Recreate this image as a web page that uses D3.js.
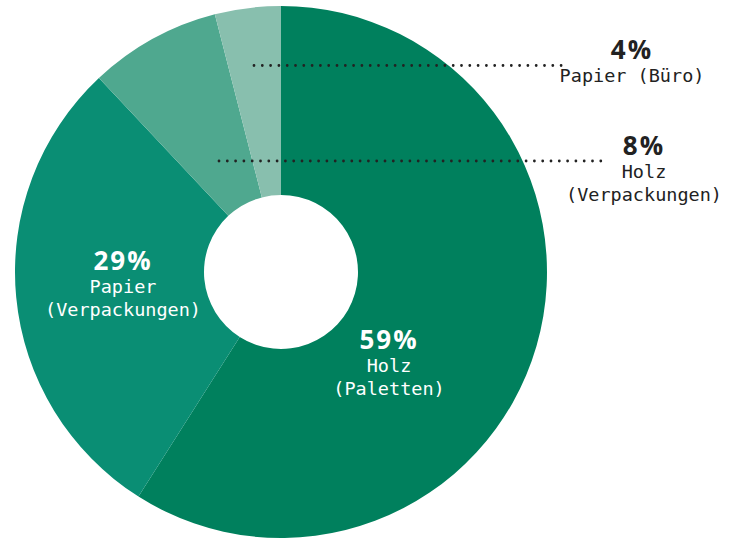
<!DOCTYPE html>
<html lang="de">
    <head>
        <meta charset="utf-8">
        <title>donut</title>
        <script type="text/javascript" src="https://cdn.jsdelivr.net/npm/d3@7"></script>
        <style>
            body { margin: 0; background: #fff; }
            .pct { font-family: "Open Sans", "Noto Sans", sans-serif; font-weight: 700; font-size: 26px; letter-spacing: 2px; }
            .lbl { font-family: "DejaVu Sans Mono", monospace; font-size: 18.5px; }
        </style>
    </head>

    <body>
        <script type="text/javascript">
        var w = 734;
        var h = 539;

        // data, in drawing order (clockwise from 12 o'clock)
        var categories = ["Holz (Paletten)", "Papier (Verpackungen)", "Holz (Verpackungen)", "Papier (Büro)"];
        var values = [59, 29, 8, 4];
        var labelLines = [["Holz", "(Paletten)"], ["Papier", "(Verpackungen)"], ["Holz", "(Verpackungen)"], ["Papier (Büro)"]];
        var colors = ["#00805d", "#0a8e74", "#4fa88f", "#88bfae"];

        var cx = 281, cy = 272;
        var outerR = 266, innerR = 77;

        var dataset = categories.map(function(c, i){
            return { name: c, value: values[i], lines: labelLines[i], color: colors[i] };
        });

        // label placement relative to the chart centre
        var labelPos = [
            { x: 108, y: 77, inside: true },
            { x: -158, y: -2, inside: true },
            { x: 363, y: -117, inside: false, lineFrom: [-62, -111], lineTo: [322, -111] },
            { x: 351, y: -213, inside: false, lineFrom: [-27, -206.5], lineTo: [282, -206.5] }
        ];

        var svg = d3.select("body")
                    .append("svg")
                    .attr("width", w)
                    .attr("height", h);

        var g = svg.append("g")
                    .attr("transform", "translate(" + cx + "," + cy + ")");

        var pie = d3.pie()
                    .sort(null)
                    .value(function(d){ return d.value; });

        var arc = d3.arc()
                    .innerRadius(innerR)
                    .outerRadius(outerR);

        g.selectAll("path")
            .data(pie(dataset))
            .enter()
            .append("path")
            .attr("d", arc)
            .attr("fill", function(d){ return d.data.color; });

        // dotted leader lines for the small slices
        dataset.forEach(function(d, i){
            var p = labelPos[i];
            if (p.inside) return;
            g.append("line")
                .attr("x1", p.lineFrom[0])
                .attr("y1", p.lineFrom[1])
                .attr("x2", p.lineTo[0])
                .attr("y2", p.lineTo[1])
                .attr("stroke", "#222")
                .attr("stroke-width", 2.8)
                .attr("stroke-linecap", "round")
                .attr("stroke-dasharray", "0 8.3");
        });

        // labels
        dataset.forEach(function(d, i){
            var p = labelPos[i];
            var fill = p.inside ? "#fff" : "#222";
            var t = g.append("g").attr("transform", "translate(" + p.x + "," + p.y + ")");
            t.append("text")
                .attr("class", "pct")
                .attr("text-anchor", "middle")
                .attr("fill", fill)
                .text(d.value + "%");
            d.lines.forEach(function(line, j){
                t.append("text")
                    .attr("class", "lbl")
                    .attr("text-anchor", "middle")
                    .attr("y", 23 + j * 23)
                    .attr("fill", fill)
                    .text(line);
            });
        });
        </script>
    </body>
</html>
